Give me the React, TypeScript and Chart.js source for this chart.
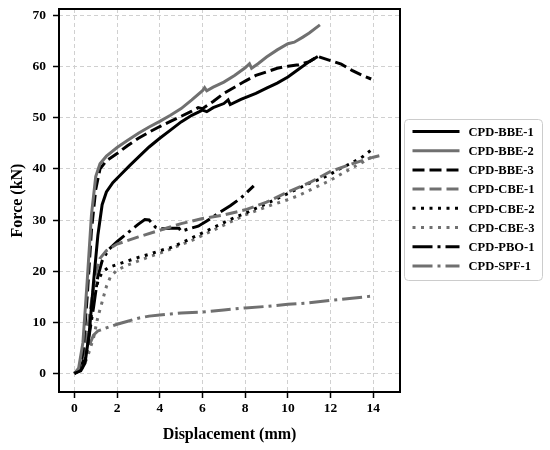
import { useEffect, useRef } from "react";
import Chart from "chart.js/auto";
import type { Plugin, ChartDataset } from "chart.js";

// tick values on both axes
const displacementTicks = [0, 2, 4, 6, 8, 10, 12, 14];
const forceTicks = [0, 10, 20, 30, 40, 50, 60, 70];

const seriesLabels = [
    "CPD-BBE-1",
    "CPD-BBE-2",
    "CPD-BBE-3",
    "CPD-CBE-1",
    "CPD-CBE-2",
    "CPD-CBE-3",
    "CPD-PBO-1",
    "CPD-SPF-1",
];

// values (displacement mm / force kN)
const bbe1Disp = [0, 0.3, 0.5, 0.7, 0.9, 1.1, 1.3, 1.5, 1.8, 2.2, 2.6, 3, 3.5, 4, 4.5, 5, 5.5, 6, 6.2, 6.5, 7, 7.2, 7.3, 7.8, 8.5, 9, 9.5, 10, 10.5, 11, 11.4];
const bbe1Force = [0, 0.5, 2, 8, 18, 27, 33, 35.5, 37.3, 39, 40.7, 42.3, 44.3, 46, 47.6, 49.2, 50.5, 51.5, 51.2, 52, 52.8, 53.5, 52.6, 53.6, 54.8, 55.8, 56.8, 58, 59.5, 61, 62];

const bbe2Disp = [0, 0.2, 0.4, 0.6, 0.8, 1, 1.2, 1.5, 2, 2.5, 3, 3.5, 4, 4.5, 5, 5.5, 6, 6.1, 6.2, 6.5, 7, 7.5, 8, 8.2, 8.3, 8.6, 9, 9.5, 10, 10.3, 10.7, 11, 11.5];
const bbe2Force = [0, 1, 6, 18, 31, 38.5, 41, 42.5, 44.2, 45.6, 47, 48.2, 49.3, 50.5, 51.8, 53.5, 55.3, 55.9, 55.3, 56, 57, 58.3, 59.8, 60.6, 59.7, 60.6, 61.9, 63.3, 64.5, 64.8, 65.8, 66.6, 68.2];

const bbe3Disp = [0, 0.2, 0.4, 0.6, 0.8, 1, 1.2, 1.5, 2, 2.5, 3, 3.5, 4, 4.5, 5, 5.5, 5.8, 6, 6.5, 7, 7.5, 8, 8.5, 9, 9.5, 10, 10.5, 11, 11.4, 12, 12.5, 13, 13.5, 13.9];
const bbe3Force = [0, 0.5, 4, 15, 28, 36, 40, 41.6, 43, 44.6, 46, 47.2, 48.3, 49.3, 50.3, 51.3, 52, 51.8, 53.2, 54.8, 56, 57.2, 58.3, 59, 59.7, 60.1, 60.4, 61, 62, 61.2, 60.5, 59.3, 58.3, 57.6];

const cbe1Disp = [0, 0.2, 0.4, 0.6, 0.8, 1, 1.2, 1.5, 2, 3, 4, 5, 6, 7, 8, 9, 10, 11, 12, 13, 14, 14.5];
const cbe1Force = [0, 0.5, 3, 8, 14, 19.5, 22.5, 24, 25.3, 26.7, 28, 29.3, 30.3, 31, 32, 33.5, 35.5, 37.3, 39.5, 41, 42.3, 42.8];

const cbe2Disp = [0, 0.3, 0.6, 0.9, 1.1, 1.3, 1.6, 2, 2.5, 3, 3.5, 4, 4.5, 5, 5.5, 6, 6.5, 7, 7.5, 8, 8.5, 9, 9.5, 10, 10.5, 11, 11.5, 12, 12.5, 13, 13.5, 13.9];
const cbe2Force = [0, 1, 6, 14, 18, 19.8, 20.7, 21.3, 22, 22.7, 23.3, 24, 24.6, 25.5, 26.5, 27.5, 28.5, 29.5, 30.5, 31.3, 32.3, 33.2, 34.2, 35.2, 36.2, 37.2, 38, 39, 40.2, 41.2, 42.4, 43.7];

const cbe3Disp = [0, 0.3, 0.6, 0.9, 1.1, 1.3, 1.5, 1.7, 2, 2.5, 3, 3.5, 4, 4.5, 5, 5.5, 6, 6.5, 7, 7.5, 8, 8.5, 9, 9.5, 10, 10.5, 11, 11.5, 12, 12.5, 13, 13.5, 13.9];
const cbe3Force = [0, 0.5, 3, 7, 11, 14, 17, 19, 20.2, 21.2, 22, 22.8, 23.5, 24.3, 25.2, 26, 27, 28, 29, 30, 31, 31.8, 32.6, 33.3, 34, 34.8, 35.8, 36.8, 37.8, 39, 40.2, 41.3, 42.3];

const pbo1Disp = [0, 0.3, 0.6, 0.9, 1.1, 1.3, 1.6, 2, 2.5, 3, 3.3, 3.5, 3.8, 4, 4.5, 4.9, 5, 5.3, 5.8, 6.2, 6.8, 7.3, 7.8, 8.4];
const pbo1Force = [0, 1, 5, 13, 19, 22, 24.2, 25.8, 27.5, 29.2, 30.1, 30, 28.6, 28.3, 28.4, 28.4, 27.8, 28.2, 28.8, 29.8, 31.5, 32.8, 34.3, 36.7];

const spf1Disp = [0, 0.3, 0.5, 0.7, 0.9, 1.1, 1.5, 2, 2.5, 3, 3.5, 4, 4.5, 5, 6, 7, 8, 9, 10, 11, 12, 13, 13.9];
const spf1Force = [0, 1, 3, 5.5, 7.5, 8.3, 8.9, 9.6, 10.2, 10.8, 11.2, 11.4, 11.6, 11.8, 12, 12.4, 12.8, 13.1, 13.5, 13.8, 14.3, 14.7, 15.1];

const seriesDisp = [bbe1Disp, bbe2Disp, bbe3Disp, cbe1Disp, cbe2Disp, cbe3Disp, pbo1Disp, spf1Disp];
const seriesForce = [bbe1Force, bbe2Force, bbe3Force, cbe1Force, cbe2Force, cbe3Force, pbo1Force, spf1Force];

const BLACK = "#000000";
const GREY = "#707070";
const SOLID: number[] = [];
const DASHED = [12, 5];
const DOTTED = [3, 5.5];
const DASHDOT = [20, 5, 3, 5];

const seriesColors = [BLACK, GREY, BLACK, GREY, BLACK, GREY, BLACK, GREY];
const seriesDashes = [SOLID, SOLID, DASHED, DASHED, DOTTED, DOTTED, DASHDOT, DASHDOT];

const FONT = "'Liberation Serif', 'Times New Roman', serif";

// frame round the plot area, drawn above the lines like matplotlib spines
const framePlugin: Plugin<"line"> = {
    id: "frame",
    afterDatasetsDraw(chart) {
        const { ctx, chartArea } = chart;
        ctx.save();
        ctx.strokeStyle = BLACK;
        ctx.lineWidth = 2;
        ctx.setLineDash([]);
        ctx.strokeRect(
            chartArea.left,
            chartArea.top,
            chartArea.right - chartArea.left,
            chartArea.bottom - chartArea.top
        );
        ctx.restore();
    },
};

// legend in a rounded box to the right of the plot
const legendPlugin: Plugin<"line"> = {
    id: "boxLegend",
    afterDraw(chart) {
        const { ctx, chartArea } = chart;
        const left = chartArea.right + 4.5;
        const top = 119.5;
        const rowH = 19.2;
        ctx.save();
        ctx.beginPath();
        ctx.roundRect(left, top, 138, 161, 4);
        ctx.fillStyle = "rgba(255,255,255,0.8)";
        ctx.fill();
        ctx.strokeStyle = "#cccccc";
        ctx.lineWidth = 1;
        ctx.stroke();

        chart.data.datasets.forEach((ds, i) => {
            const y = top + 12 + i * rowH;
            ctx.beginPath();
            ctx.setLineDash((ds.borderDash as number[]) || []);
            ctx.strokeStyle = ds.borderColor as string;
            ctx.lineWidth = ds.borderWidth as number;
            ctx.moveTo(left + 8, y);
            ctx.lineTo(left + 55, y);
            ctx.stroke();
            ctx.setLineDash([]);
            ctx.fillStyle = BLACK;
            ctx.font = `bold 12.5px ${FONT}`;
            ctx.textBaseline = "middle";
            ctx.fillText(ds.label ?? "", left + 64, y + 1);
        });
        ctx.restore();
    },
};

export default function App() {
    const canvasRef = useRef<HTMLCanvasElement | null>(null);
    const chartRef = useRef<Chart | null>(null);

    useEffect(() => {
        const canvas = canvasRef.current;
        if (!canvas) {
            return;
        }
        if (chartRef.current) {
            chartRef.current.destroy();
        }

        const datasets: ChartDataset<"line", { x: number; y: number }[]>[] =
            seriesLabels.map((label, i) => ({
                label,
                data: seriesDisp[i].map((x, j) => ({ x, y: seriesForce[i][j] })),
                borderColor: seriesColors[i],
                backgroundColor: seriesColors[i],
                borderDash: seriesDashes[i],
                borderWidth: 3,
                borderCapStyle: "butt",
                pointRadius: 0,
                tension: 0,
                fill: false,
            }));

        const grid = {
            color: "#d0d0d0",
            lineWidth: 1,
            tickLength: 6,
            tickColor: BLACK,
            tickWidth: 1.5,
            tickBorderDash: [],
        };
        const border = { display: false, dash: [4, 3] };

        chartRef.current = new Chart(canvas, {
            type: "line",
            data: { datasets },
            options: {
                responsive: false,
                animation: false,
                layout: { padding: { left: 0, top: 9, right: 150, bottom: 0 } },
                scales: {
                    x: {
                        type: "linear",
                        min: -0.72,
                        max: 15.25,
                        grid,
                        border,
                        afterBuildTicks: (scale) => {
                            scale.ticks = displacementTicks.map((value) => ({ value }));
                        },
                        afterFit: (scale) => {
                            scale.height = 58;
                            scale.paddingLeft = 0;
                            scale.paddingRight = 0;
                        },
                        ticks: {
                            color: BLACK,
                            padding: 2,
                            maxRotation: 0,
                            font: { family: FONT, size: 13.5, weight: "bold" },
                        },
                        title: {
                            display: true,
                            text: "Displacement (mm)",
                            color: BLACK,
                            padding: { top: 0, bottom: 6 },
                            font: { family: FONT, size: 16, weight: "bold" },
                        },
                    },
                    y: {
                        type: "linear",
                        min: -3.65,
                        max: 71.3,
                        grid,
                        border,
                        afterBuildTicks: (scale) => {
                            scale.ticks = forceTicks.map((value) => ({ value }));
                        },
                        afterFit: (scale) => {
                            scale.width = 59;
                            scale.paddingTop = 0;
                            scale.paddingBottom = 0;
                        },
                        ticks: {
                            color: BLACK,
                            padding: 7,
                            font: { family: FONT, size: 13.5, weight: "bold" },
                        },
                        title: {
                            display: true,
                            text: "Force (kN)",
                            color: BLACK,
                            padding: { top: 8, bottom: 0 },
                            font: { family: FONT, size: 16, weight: "bold" },
                        },
                    },
                },
                plugins: {
                    legend: { display: false },
                    tooltip: { enabled: false },
                },
            },
            plugins: [framePlugin, legendPlugin],
        });

        return () => {
            if (chartRef.current) {
                chartRef.current.destroy();
                chartRef.current = null;
            }
        };
    }, []);

    return (
        <div style={{ position: "fixed", left: 0, top: 0, width: 550, height: 450, background: "#fff" }}>
            <canvas ref={canvasRef} width={550} height={450} />
        </div>
    );
}
